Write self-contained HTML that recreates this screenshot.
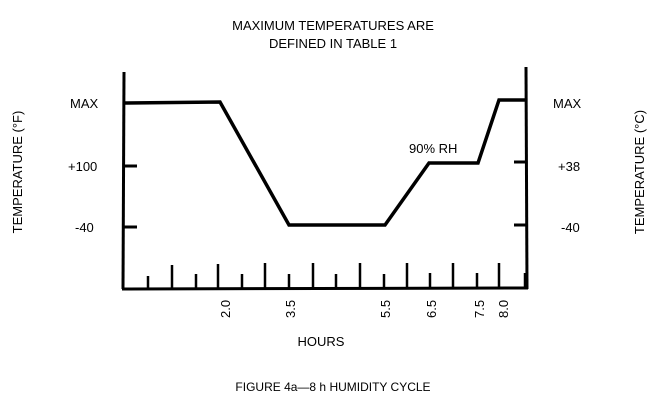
<!DOCTYPE html>
<html><head><style>body{margin:0;background:#fff}</style></head><body>
<svg width="666" height="412" xmlns="http://www.w3.org/2000/svg" font-family="Liberation Sans, sans-serif" fill="#000">
<rect width="666" height="412" fill="#fff"/>
<text x="333" y="30" font-size="13" text-anchor="middle">MAXIMUM TEMPERATURES ARE</text>
<text x="333" y="48" font-size="13" text-anchor="middle">DEFINED IN TABLE 1</text>
<g stroke="#000" fill="none" stroke-width="3">
<line x1="124" y1="72" x2="123" y2="289"/>
<line x1="526" y1="67" x2="527" y2="289"/>
<line x1="122" y1="289" x2="528" y2="288"/>
<line x1="124" y1="166" x2="137" y2="166"/><line x1="124" y1="227" x2="137" y2="227"/>
<line x1="514" y1="162" x2="527" y2="162"/><line x1="514" y1="225" x2="527" y2="225"/>
<polyline stroke-width="3.5" points="124,103 220,102 289,225 385,225 429,163 478,163 499,100 527,100"/>
<g stroke-width="2.5">
<line x1="172" y1="265" x2="172" y2="288"/><line x1="218" y1="264" x2="218" y2="288"/><line x1="265" y1="263" x2="265" y2="288"/><line x1="313" y1="263" x2="313" y2="288"/><line x1="360" y1="263" x2="360" y2="288"/><line x1="407" y1="263" x2="407" y2="288"/><line x1="453" y1="263" x2="453" y2="288"/><line x1="499" y1="263" x2="499" y2="288"/>
<line x1="148" y1="276" x2="148" y2="288"/><line x1="196" y1="274" x2="196" y2="288"/><line x1="242" y1="274" x2="242" y2="288"/><line x1="289" y1="274" x2="289" y2="288"/><line x1="336" y1="274" x2="336" y2="288"/><line x1="384" y1="274" x2="384" y2="288"/><line x1="430" y1="273" x2="430" y2="288"/><line x1="477" y1="273" x2="477" y2="288"/><line x1="525" y1="273" x2="525" y2="288"/>
</g></g>
<g font-size="13">
<text x="70" y="108">MAX</text><text x="68" y="171">+100</text><text x="75" y="232">-40</text>
<text x="553" y="108">MAX</text><text x="558" y="171">+38</text><text x="561" y="232">-40</text>
<text x="409" y="153">90% RH</text>
<text transform="translate(230,318) rotate(-90)">2.0</text>
<text transform="translate(295,318) rotate(-90)">3.5</text>
<text transform="translate(390,318) rotate(-90)">5.5</text>
<text transform="translate(436,318) rotate(-90)">6.5</text>
<text transform="translate(484,318) rotate(-90)">7.5</text>
<text transform="translate(508,318) rotate(-90)">8.0</text>
<text x="321" y="346" text-anchor="middle">HOURS</text>
<text x="333" y="391" text-anchor="middle" font-size="12">FIGURE 4a—8 h HUMIDITY CYCLE</text>
<text transform="translate(22,172) rotate(-90)" text-anchor="middle">TEMPERATURE (°F)</text>
<text transform="translate(644,172) rotate(-90)" text-anchor="middle">TEMPERATURE (°C)</text>
</g>
</svg>
</body></html>
